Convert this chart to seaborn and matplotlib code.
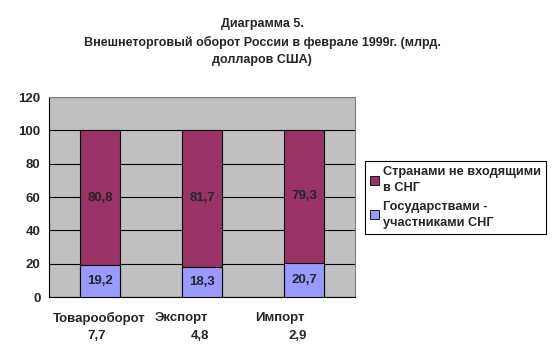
import numpy as np
import pandas as pd
import matplotlib
matplotlib.use("Agg")
import matplotlib.pyplot as plt
import seaborn as sns
from matplotlib.patches import Patch

# Data
categories = ["Товарооборот", "Экспорт", "Импорт"]
totals_label = ["7,7", "4,8", "2,9"]
cis_share = [19.2, 18.3, 20.7]
non_cis_share = [80.8, 81.7, 79.3]

series_names = ["Странами не входящими\nв СНГ", "Государствами -\nучастниками СНГ"]
col_non_cis = "#993366"
col_cis = "#9999FF"

df = pd.DataFrame({"cat": categories, "cis": cis_share, "non": non_cis_share})
df["total"] = df["cis"] + df["non"]

sns.set_style("white")
plt.rcParams["font.family"] = ["Liberation Sans", "DejaVu Sans"]
plt.rcParams["font.weight"] = "bold"
plt.rcParams["font.size"] = 9

fig = plt.figure(figsize=(5.57, 3.60), dpi=100)
ax = fig.add_axes([49/557, 63/360, 306/557, 200/360])
ax.set_facecolor("#C0C0C0")

# stacked: draw total in maroon, then CIS part on top of it from zero
sns.barplot(data=df, x="cat", y="total", color=col_non_cis, width=0.39,
            edgecolor="black", linewidth=0.8, saturation=1, ax=ax, zorder=3)
sns.barplot(data=df, x="cat", y="cis", color=col_cis, width=0.39,
            edgecolor="black", linewidth=0.8, saturation=1, ax=ax, zorder=4)

for i, (c, n) in enumerate(zip(cis_share, non_cis_share)):
    ax.text(i, c / 2, f"{c:.1f}".replace(".", ","), ha="center", va="center",
            fontsize=9.5, fontweight="bold", zorder=5)
    ax.text(i, c + n / 2, f"{n:.1f}".replace(".", ","), ha="center", va="center",
            fontsize=9.5, fontweight="bold", zorder=5)

ax.set_ylim(0, 120)
ax.set_xlim(-0.5, 2.5)
ax.set_yticks(np.arange(0, 121, 20))
ax.yaxis.grid(True, color="black", linewidth=0.8, zorder=1)
ax.set_axisbelow(True)
ax.set_xlabel("")
ax.set_ylabel("")
ax.set_xticks([-0.5, 0.5, 1.5, 2.5])
ax.set_xticklabels([])
ax.tick_params(axis="x", direction="out", length=4, width=0.8, color="black")
ax.tick_params(axis="y", direction="out", length=4, width=0.8, color="black",
               labelsize=9.5, pad=2)
for lbl in ax.get_yticklabels():
    lbl.set_fontweight("bold")
for s in ["left", "bottom"]:
    ax.spines[s].set_color("black")
    ax.spines[s].set_linewidth(0.8)
for s in ["top", "right"]:
    ax.spines[s].set_color("#808080")
    ax.spines[s].set_linewidth(0.8)

# category labels (wrapped oddly in the original)
name_x = [99, 181, 280]
val_x = [97, 200, 298]
for nm, vl, nx, vx in zip(categories, totals_label, name_x, val_x):
    fig.text(nx / 557, 1 - 318 / 360, nm, ha="center", va="center",
             fontsize=9.5, fontweight="bold")
    fig.text(vx / 557, 1 - 336 / 360, vl, ha="center", va="center",
             fontsize=9.5, fontweight="bold")

fig.text(262 / 557, 1 - 42 / 360,
         "Диаграмма 5.\nВнешнеторговый оборот России в феврале 1999г. (млрд.\nдолларов США)",
         ha="center", va="center", fontsize=9, fontweight="bold", linespacing=1.6)

handles = [Patch(facecolor=col_non_cis, edgecolor="black", linewidth=0.6),
           Patch(facecolor=col_cis, edgecolor="black", linewidth=0.6)]
leg = fig.legend(handles, series_names, loc="upper left",
                 bbox_to_anchor=(365 / 557, 1 - 161 / 360), borderaxespad=0,
                 frameon=True, fancybox=False, edgecolor="black", framealpha=1,
                 handlelength=0.7, handleheight=0.7, handletextpad=0.3,
                 borderpad=0.4, labelspacing=0.5, prop={"size": 9.2, "weight": "bold"})
for t in leg.get_texts():
    t.set_linespacing(1.45)
leg.get_frame().set_linewidth(0.8)

fig.savefig("out.png", dpi=100, facecolor="white")
